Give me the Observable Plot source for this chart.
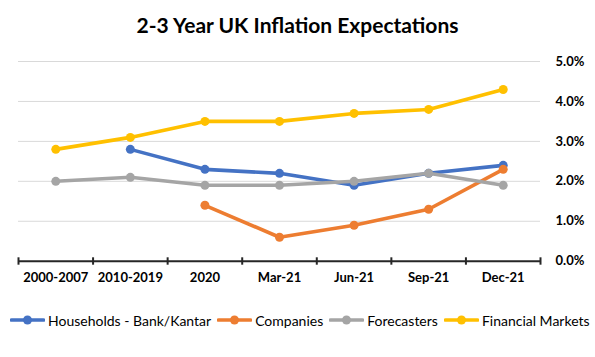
<!DOCTYPE html>
<html><head><meta charset="utf-8">
<script src="https://cdn.jsdelivr.net/npm/d3@7"></script>
<script src="https://cdn.jsdelivr.net/npm/@observablehq/plot@0.6"></script>
<style>
body{margin:0;background:#fff;font-family:Lato,"Open Sans",sans-serif;color:#000;}
#title{height:50px;line-height:50px;text-align:center;font-weight:bold;font-size:21px;}
#legend{display:flex;justify-content:flex-start;align-items:center;gap:6px;font-size:14px;margin-top:22px;height:16px;padding-left:10px;}
#legend span.item{display:flex;align-items:center;gap:3px;white-space:nowrap;}
</style></head><body>
<div id="title">2-3 Year UK Inflation Expectations</div>
<div id="chart"></div>
<div id="legend"></div>
<script>
const categories = ["2000-2007","2010-2019","2020","Mar-21","Jun-21","Sep-21","Dec-21"];
const seriesNames = ["Households - Bank/Kantar","Companies","Forecasters","Financial Markets"];
const households = [null,2.8,2.3,2.2,1.9,2.2,2.4];
const companies = [null,null,1.4,0.6,0.9,1.3,2.3];
const forecasters = [2.0,2.1,1.9,1.9,2.0,2.2,1.9];
const financialMarkets = [2.8,3.1,3.5,3.5,3.7,3.8,4.3];
const colors = ["#4472C4","#ED7D31","#A5A5A5","#FFC000"];
const yTicks = [0,1,2,3,4,5];

const seriesValues = [households, companies, forecasters, financialMarkets];
const rows = [];
seriesValues.forEach((vals, s) => vals.forEach((v, i) => {
  if (v != null) rows.push({series: seriesNames[s], idx: i + 0.5, value: v});
}));
const catRows = categories.map((c, i) => ({label: c, idx: i + 0.5}));
const boundaries = d3.range(categories.length + 1);

const marks = [
  Plot.ruleY(yTicks.filter(d => d > 0), {x1: 0, x2: categories.length, stroke: "#d9d9d9", strokeWidth: 1}),
  Plot.ruleY([0], {x1: 0, x2: categories.length, stroke: "#262626", strokeWidth: 2}),
  Plot.ruleX(boundaries, {y1: -0.1, y2: 0.085, stroke: "#262626", strokeWidth: 2}),
  Plot.text(catRows, {x: "idx", y: 0, text: "label", dy: 17, fontWeight: "bold", fontSize: 13, fill: "#000"})
];
seriesNames.forEach((name, s) => {
  const d = rows.filter(r => r.series === name);
  marks.push(Plot.line(d, {x: "idx", y: "value", stroke: colors[s], strokeWidth: 3.6, strokeLinejoin: "round", strokeLinecap: "round"}));
  marks.push(Plot.dot(d, {x: "idx", y: "value", r: 4.5, fill: colors[s], stroke: "none"}));
});

const chart = Plot.plot({
  width: 595,
  height: 240,
  marginLeft: 18,
  marginRight: 55,
  marginTop: 11,
  marginBottom: 29.3,
  style: {fontFamily: "Lato, 'Open Sans', sans-serif", background: "#fff"},
  x: {type: "linear", domain: [0, categories.length]},
  y: {domain: [0, 5]},
  marks: [
    Plot.axisX({ticks: [], tickSize: 0, label: null, text: null}),
    Plot.axisY(yTicks, {anchor: "right", tickSize: 0, tickPadding: 15, tickFormat: d => d.toFixed(1) + "%", textAnchor: "start", fontWeight: "bold", fontSize: 13, fill: "#000", label: null}),
    ...marks
  ]
});
document.getElementById("chart").appendChild(chart);

const legend = document.getElementById("legend");
seriesNames.forEach((name, s) => {
  const item = document.createElement("span");
  item.className = "item";
  item.innerHTML = `<svg width="35" height="12"><line x1="1.5" y1="6" x2="33.5" y2="6" stroke="${colors[s]}" stroke-width="3.6" stroke-linecap="round"/><circle cx="17.5" cy="6" r="4.5" fill="${colors[s]}"/></svg><span>${name}</span>`;
  legend.appendChild(item);
});
</script>
</body></html>
